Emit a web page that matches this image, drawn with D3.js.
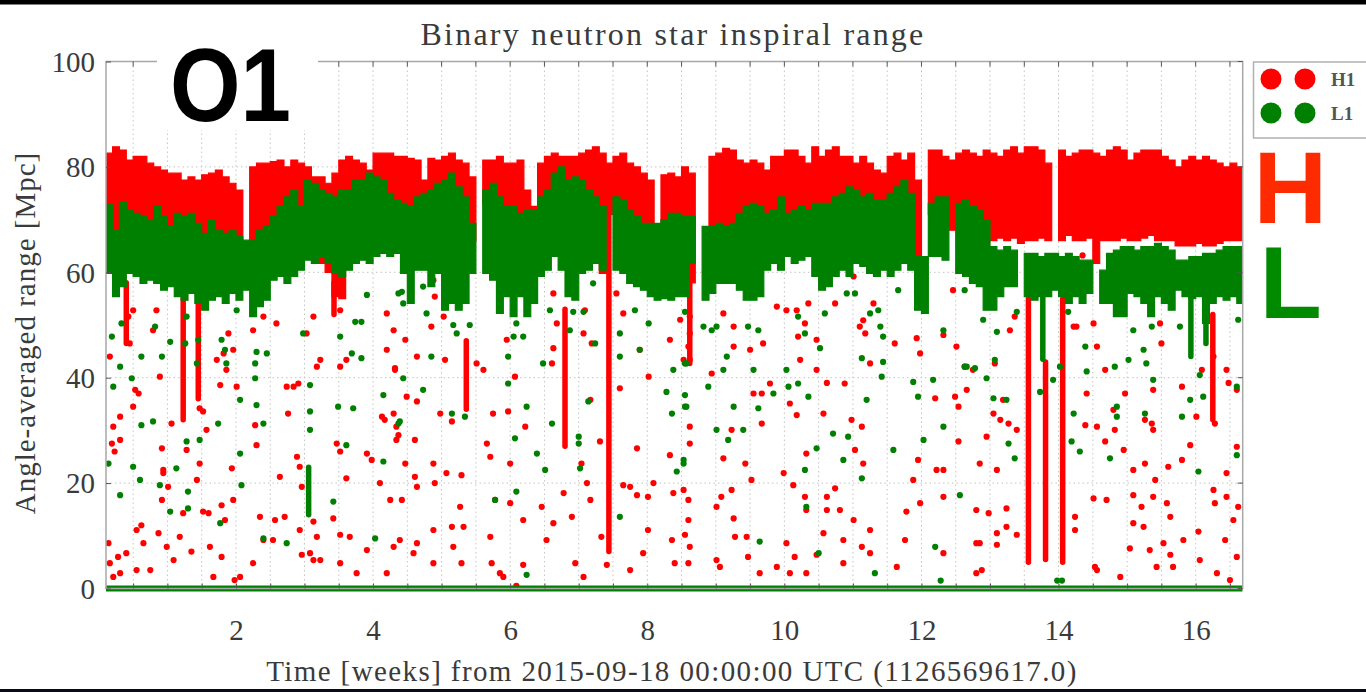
<!DOCTYPE html>
<html>
<head>
<meta charset="utf-8">
<script src="https://cdn.jsdelivr.net/npm/d3@7"></script>
<style>
  html, body { margin: 0; padding: 0; background: #fff; }
  svg { display: block; }
</style>
</head>
<body>
<svg id="chart" width="1366" height="692"></svg>
<script>
// ---- Inspiral range samples (0.1-week bins starting at week 0.1) ----
const binStart = 0.1;
const binWidth = 0.1;

const h1Top = [
  82.6, 83.8, 83.2, 81.3, 82.0, 82.0, 80.7, 80.0, 79.4,
  78.8, 78.8, 77.5, 78.1, 77.5, 78.5, 78.8, 79.4, 78.1, 76.9,
  75.6, null, 80.0, 80.7, 80.7, 81.0, 81.3, 80.0, 81.3, 80.7,
  80.0, 78.1, 78.1, 76.9, 78.8, 81.3, 82.0, 81.3, 80.7, 79.4,
  82.6, 82.6, 82.6, 82.0, 82.0, 81.6, 81.3, 77.5, 81.6, 81.3,
  82.0, 82.6, 81.3, 80.7, 78.1, null, 81.3, 81.3, 82.0, 80.7,
  80.7, 81.3, 75.6, 72.5, 80.7, 82.0, 82.6, 82.0, 82.0, 82.0,
  82.6, 83.2, 83.8, 82.6, 80.7, 82.0, 82.6, 80.7, 80.0, 78.8,
  77.5, null, 78.5, 78.8, 78.1, 80.0, 78.8, null, null, 82.0,
  82.6, 83.5, 83.2, 81.3, 80.7, 81.3, 80.7, 79.4, 82.0, 82.0,
  83.2, 83.2, 82.0, 80.7, 83.8, 82.0, 83.2, 83.8, 82.0, 82.0,
  80.7, 82.0, 80.7, 79.4, 78.8, 82.0, 82.6, 81.3, 82.6, 77.5,
  null, 83.2, 83.2, 82.0, 81.3, 82.6, 83.2, 82.6, 82.0, 83.2,
  82.6, 82.0, 83.2, 83.8, 82.6, 83.8, 83.8, 83.2, 80.7, null,
  83.2, 82.0, 82.6, 83.2, 83.2, 82.6, 82.0, 83.2, 83.8, 83.2,
  81.3, 82.6, 83.2, 83.2, 83.2, 82.0, 81.3, 80.0, 81.3, 82.0,
  81.3, 82.0, 81.3, 80.7, 80.0, 80.7, 80.0
];
const h1Bottom = [
  70, 66, 71, 70, 69, 68, 68, 70, 68,
  67, 69, 68, 69, 67, 65, 68, 66, 65, 66,
  65, null, 64, 66, 67, 68, 70, 72, 73, 71,
  75, 74, 61.7, 60, 55.4, 55, 73, 75, 75, 76,
  76, 75, 73, 72, 71, 70, 72, 73, 73, 74,
  75, 76, 74, 72, 66, null, 73, 74, 72, 70,
  70, 69, 70, 68, 72, 73, 63, 66, 74, 75,
  75, 73, 72, 59.8, 71, 72, 72, 70, 68, 67,
  67, null, 68, 69, 69, 68, 58, null, null, 66,
  67, 66, 67, 69, 70, 71, 70, 69, 70, 72,
  69, 70, 70, 70, 71, 71, 71, 72, 73, 74,
  73, 72, 73, 71, 71, 73, 74, 75, 73, 56,
  null, 71, 72, 72, 68, 71, 71, 70, 70, 68,
  66, 66.5, 66, 66.5, 65.5, 66, 66, 66.5, 66, null,
  66, 67, 66, 66, 66.5, 61.7, 66, 66, 66, 66.5,
  66, 66, 66.5, 67, 66, 66, 66, 65, 65, 65,
  65.5, 65, 65, 65.5, 66, 66, 66
];
const l1Top = [
  72.8, 68.0, 73.4, 71.8, 71.2, 70.6, 69.9, 72.5, 70.6,
  68.7, 71.2, 70.6, 71.2, 69.3, 67.4, 69.9, 68.0, 67.4, 68.0,
  66.8, 66.1, 66.1, 68.0, 68.7, 70.6, 72.5, 74.3, 75.6, 72.5,
  77.5, 76.9, 75.6, 75.0, 74.3, 75.6, 75.6, 77.5, 77.5, 78.8,
  78.1, 77.5, 75.0, 73.7, 73.1, 72.5, 74.3, 75.0, 75.6, 76.9,
  77.5, 78.8, 76.2, 74.3, 69.3, null, 75.6, 76.9, 74.3, 72.5,
  72.5, 71.2, 71.8, 71.8, 74.3, 75.6, 78.8, 80.0, 77.5, 78.1,
  77.5, 75.6, 74.3, 72.5, null, 74.3, 73.7, 71.8, 70.6, 69.3,
  69.3, 69.3, 70.0, 71.2, 71.2, 70.6, 70.6, null, 68.7, 68.7,
  69.3, 68.7, 69.3, 71.2, 72.5, 73.1, 72.5, 71.2, 71.8, 74.3,
  71.2, 71.8, 72.5, 71.8, 73.1, 73.1, 73.1, 74.3, 75.0, 76.2,
  75.6, 74.3, 75.0, 73.7, 73.7, 75.0, 76.2, 77.5, 75.0, 63.0,
  63.0, 73.1, 74.3, 74.3, null, 73.1, 73.7, 72.5, 71.8, 70.0,
  64.9, 64.2, 64.9, 64.2, null, 63.6, 63.6, 63.0, 63.6, 63.6,
  63.0, 63.6, 63.0, 62.3, 62.3, null, 60.4, 63.6, 64.2, 64.9,
  64.9, 64.2, 64.9, 64.9, 65.5, 64.9, 64.2, 62.3, 62.3, 63.0,
  63.0, 63.6, 63.6, 64.2, 64.9, 64.9, 64.9
];
const l1Bottom = [
  59.8, 55.4, 57.3, 59.8, 59.2, 57.9, 58.5, 57.9, 56.6,
  57.3, 55.4, 54.7, 56.0, 54.1, 52.8, 54.7, 55.4, 54.1, 56.0,
  54.7, 56.6, 51.6, 53.5, 54.7, 58.5, 59.2, 57.9, 59.2, 60.4,
  62.3, 61.7, 63.0, 61.7, 59.8, 59.2, 60.4, 61.7, 62.3, 61.7,
  63.0, 63.6, 63.0, 63.6, 59.8, 54.1, 60.4, 60.4, 57.3, 59.8,
  52.8, 54.1, 52.8, 54.1, 59.8, null, 59.8, 58.5, 52.2, 55.4,
  51.6, 55.4, 51.6, 54.1, 59.2, 60.4, 63.0, 60.4, 55.4, 54.7,
  59.8, 60.4, 61.7, 60.4, null, 60.4, 59.8, 57.9, 57.3, 56.6,
  55.4, 54.7, 55.0, 54.7, 55.4, 55.4, 61.7, null, 54.7, 56.0,
  57.9, 57.9, 57.9, 56.6, 54.7, 54.7, 55.4, 60.4, 61.7, 60.4,
  63.0, 61.7, 62.3, 63.0, 59.2, 56.6, 57.3, 59.2, 60.4, 59.2,
  61.7, 61.1, 59.8, 59.2, 60.4, 59.2, 60.4, 61.7, 60.4, 52.8,
  52.2, 63.0, 63.0, 62.3, null, 59.8, 59.2, 57.9, 57.3, 52.8,
  52.8, 55.4, 57.3, 57.3, null, 55.4, 54.7, 55.4, 55.4, 56.6,
  55.4, 54.1, 55.4, 54.1, 56.0, null, 54.1, 54.1, 51.6, 51.6,
  56.0, 55.4, 54.1, 51.6, 55.4, 54.1, 52.8, 56.6, 55.4, 55.0,
  55.4, 50.3, 54.1, 55.4, 54.7, 55.4, 54.1
];

// Short dense drops below the main band: [week, upper Mpc, lower Mpc]
const h1Drops = [
  [0.40, 58, 46.5], [1.23, 55, 32], [1.45, 54, 36], [3.43, 58, 52],
  [5.36, 47, 34], [6.80, 53, 27], [7.44, 71, 7], [8.62, 58, 42.7],
  [13.56, 55, 5], [13.81, 43, 5.5], [14.06, 55, 5], [16.25, 52, 32]
];
const l1Drops = [
  [3.06, 23, 14], [13.77, 56, 43.5], [15.93, 56, 44], [16.15, 55, 46.5]
];

// Isolated samples: [week, Mpc]
const h1Points = [
  [0.21,30.7],[0.19,27.5],[0.31,28.2],[0.23,26.0],[0.14,8.6],[0.16,4.8],[0.21,2.2],[0.28,6.0],[0.40,6.7],[0.31,2.9],
  [0.55,3.5],[0.62,12.0],[0.65,8.6],[0.75,3.5],[0.55,11.1],[0.50,34.5],[0.58,37.0],[0.53,37.7],[0.31,32.6],[0.87,10.5],
  [0.92,26.6],[0.94,22.5],[0.99,7.9],[1.06,31.3],[1.09,5.4],[1.18,9.8],[1.23,14.3],[1.28,26.3],[1.35,7.0],[1.43,20.6],
  [1.47,23.7],[1.52,14.6],[1.60,14.3],[1.62,7.9],[1.67,2.2],[1.57,30.1],[1.52,33.6],[1.47,34.2],[0.89,40.2],[0.94,21.9],
  [1.01,19.3],[0.92,16.8],[1.77,38.6],[1.82,44.6],[1.86,41.5],[1.79,15.8],[1.84,13.0],[1.94,22.8],[1.96,16.8],[2.01,38.3],
  [2.06,2.2],[1.79,6.0],[1.98,1.6],[2.25,4.8],[2.28,31.0],[2.30,27.2],[2.35,13.6],[2.40,9.2],[2.54,9.2],[2.57,13.0],
  [2.64,21.2],[2.71,13.6],[2.76,33.2],[2.84,38.3],[2.91,38.9],[2.89,25.0],[2.93,23.1],[2.96,19.3],[2.93,11.1],[2.96,6.4],
  [3.08,6.7],[3.13,5.4],[3.23,5.4],[3.13,12.7],[3.18,9.8],[3.42,13.3],[3.47,27.5],[3.52,26.0],[3.61,20.9],[3.66,9.8],
  [3.52,10.2],[3.52,4.8],[3.76,2.9],[3.91,7.3],[3.91,25.6],[3.98,24.4],[4.10,20.0],[4.20,2.9],[4.13,32.6],[4.17,32.0],
  [4.34,28.2],[4.32,41.8],[4.20,45.3],[4.30,49.0],[4.20,52.2],[4.25,16.8],[4.30,7.9],[3.18,42.1],[3.23,43.4],[3.03,48.4],
  [3.13,51.6],[3.52,52.8],[3.61,43.4],[3.52,42.1],[2.74,38.3],[1.72,43.4],[1.96,45.3],[1.89,48.4],[2.25,49.0],[2.59,50.3],
  [2.40,51.6],[0.79,49.0],[0.84,52.8],[0.50,52.8],[0.16,44.0],[0.43,51.6],[0.45,46.5],
  [4.32,41.5],[4.30,33.2],[4.34,30.7],[4.37,29.1],[4.47,23.7],[4.42,16.8],[4.39,9.2],[4.61,21.2],[4.64,19.3],[4.61,28.2],
  [4.64,35.5],[4.49,36.4],[4.59,6.7],[4.64,8.6],[4.47,47.2],[4.64,44.0],[4.85,49.7],[4.90,55.4],[4.88,23.7],[4.88,11.1],
  [4.88,4.8],[4.90,20.0],[4.98,33.2],[5.05,43.4],[5.03,51.6],[5.15,31.7],[5.15,11.7],[5.07,21.9],[5.17,7.9],[5.29,21.5],
  [5.27,15.5],[5.29,4.8],[5.32,11.7],[5.51,42.7],[5.61,41.5],[5.71,9.8],[5.66,27.5],[5.71,25.0],[5.75,33.2],[5.78,16.8],
  [5.73,4.8],[5.85,2.9],[5.90,2.2],[5.95,47.2],[5.97,33.6],[6.00,23.7],[6.00,16.2],[6.07,40.2],[6.09,0.5],[6.19,4.5],
  [6.22,30.7],[6.19,13.0],[6.46,15.5],[6.53,9.2],[6.63,12.4],[6.61,42.7],[6.63,45.6],[6.63,56.0],[6.68,50.3],[6.78,18.1],
  [6.90,13.6],[6.95,4.8],[7.04,23.7],[7.12,20.0],[7.17,16.8],[7.07,2.2],[7.17,35.8],[7.07,48.4],[7.09,52.8],[7.19,46.5],
  [7.31,27.9],[7.41,4.5],[7.33,9.8],[7.60,38.0],[7.65,19.6],[7.75,19.3],[7.85,17.7],[8.01,17.4],[7.85,26.6],[8.01,11.1],
  [7.94,6.7],[7.75,3.5],[7.89,45.3],[8.02,40.2],[8.09,20.0],[8.33,25.3],[8.38,18.1],[8.36,9.2],[8.40,4.8],[8.53,18.7],
  [8.55,10.2],[8.33,47.2],[8.48,51.0],[8.53,43.4],[7.55,56.0],[7.65,52.2],[4.88,58.5],
  [8.62,30.7],[8.62,27.5],[8.60,16.8],[8.60,13.0],[8.62,7.9],[8.60,4.8],[8.62,43.4],[8.60,45.9],[8.62,48.4],[8.62,51.6],
  [8.94,40.8],[9.01,5.4],[9.06,4.1],[9.08,17.4],[9.11,24.7],[9.23,30.1],[9.23,18.7],[9.26,13.3],[9.28,9.8],[9.01,15.5],
  [9.26,45.9],[9.26,49.7],[9.11,52.2],[9.43,23.7],[9.45,9.8],[9.47,6.0],[9.52,20.6],[9.55,37.0],[9.67,37.0],[9.50,45.3],
  [9.67,31.3],[9.79,38.9],[9.89,53.5],[9.89,4.1],[9.99,21.9],[10.03,8.6],[10.08,2.9],[10.15,6.0],[10.13,19.6],[10.18,32.9],
  [10.08,35.1],[10.23,43.4],[10.30,50.3],[10.20,47.8],[10.30,17.4],[10.32,14.9],[10.32,2.9],[10.32,25.6],[10.47,47.2],[10.47,41.5],
  [10.57,33.2],[10.62,17.4],[10.62,14.9],[10.57,10.5],[10.47,6.4],[10.62,39.0],[10.74,19.0],[10.81,14.9],[10.86,9.2],[10.86,4.8],
  [10.88,38.9],[10.98,32.0],[11.03,26.3],[11.01,13.0],[11.13,30.7],[11.15,23.7],[11.13,7.9],[11.25,6.7],[11.25,11.1],[11.15,50.9],
  [11.18,48.4],[11.25,42.7],[11.30,54.1],[11.61,46.5],[11.64,4.1],[11.76,9.2],[11.78,14.6],[11.98,16.2],[11.88,20.6],[11.98,44.6],
  [11.93,47.5],[11.95,24.4],[12.22,22.5],[12.32,22.5],[12.32,6.7],[12.32,17.4],[12.20,36.1],[12.32,48.1],[12.49,36.4],[12.54,27.9],
  [12.54,34.5],[12.46,56.6],[12.51,45.9],[12.63,42.1],[12.75,41.5],[12.80,14.9],[12.80,8.6],[12.80,2.9],[9.69,46.5],[9.64,2.9],
  [10.03,52.8],[10.18,52.8],[10.35,54.1],[10.74,54.1],[11.01,59.2],[11.10,49.7],
  [12.85,23.7],[12.85,8.6],[12.88,3.5],[12.98,14.3],[13.05,33.2],[13.07,42.7],[13.10,10.5],[13.10,8.3],[13.15,32.0],[13.24,11.7],
  [13.24,15.2],[13.27,31.3],[13.29,49.0],[13.39,10.2],[13.39,30.1],[13.36,51.6],[13.10,22.5],[12.95,28.8],[13.19,35.8],[14.24,13.6],
  [14.24,11.1],[14.26,49.7],[14.39,31.0],[14.41,37.0],[14.51,17.1],[14.53,4.1],[14.56,3.5],[14.56,45.9],[14.51,50.3],[14.68,41.5],
  [14.68,27.9],[14.70,16.8],[14.80,33.9],[14.82,30.1],[14.90,2.2],[14.95,26.3],[14.97,37.0],[15.09,22.5],[15.09,17.7],[15.09,12.4],
  [15.04,7.6],[15.21,15.5],[15.24,11.7],[15.26,23.7],[15.26,32.0],[15.36,31.3],[15.38,30.1],[15.38,37.7],[15.41,20.6],[15.38,17.4],
  [15.33,7.3],[15.43,4.1],[15.48,50.3],[15.50,46.5],[15.53,8.6],[15.58,16.2],[15.60,23.1],[15.63,13.6],[15.63,6.4],[15.67,4.1],
  [15.80,38.3],[15.80,24.4],[15.82,9.2],[15.92,27.2],[16.04,10.8],[16.06,5.4],[16.09,41.5],[16.26,18.7],[16.28,16.2],[16.31,2.9],
  [16.43,9.2],[16.45,17.4],[16.45,21.9],[16.50,1.6],[16.55,13.0],[16.60,6.0],[16.62,15.5],[16.45,41.5],[16.48,39.0],[16.60,37.7],
  [16.60,26.9],[16.28,31.3],[16.26,44.0],[16.01,32.6],[14.56,30.7],[14.22,49.7],[12.66,37.7],
  [13.02,63.5],[13.30,62.8],[13.62,63.0],[14.15,62.5],[14.35,63.2],[14.75,62.0],[15.05,63.0],[15.45,62.8],[15.72,61.0],[16.05,62.0],
  [16.35,62.5],[13.20,58.5],[14.45,59.5],[15.15,58.0],[16.50,57.5]
];

const l1Points = [
  [0.19,47.8],[0.21,38.3],[0.33,50.3],[0.31,42.1],[0.48,39.9],[0.62,44.0],[0.62,31.0],[0.79,31.7],[0.82,49.7],[0.92,44.0],
  [1.04,46.8],[0.14,23.7],[0.50,23.1],[0.60,20.6],[0.31,17.7],[0.89,19.6],[1.04,14.6],[1.13,22.8],[1.30,18.4],[1.28,27.9],
  [1.47,28.2],[1.30,15.2],[1.26,46.5],[1.45,47.2],[1.43,42.7],[1.28,51.6],[1.74,31.3],[1.77,12.4],[1.84,45.3],[1.86,42.7],
  [1.79,47.2],[2.06,35.8],[2.06,25.6],[2.08,19.6],[2.01,52.8],[2.30,44.9],[2.28,42.7],[2.28,39.9],[2.30,34.8],[2.40,31.3],
  [2.45,44.6],[2.40,9.5],[2.74,8.6],[2.98,48.4],[3.08,38.6],[3.08,33.6],[3.08,30.1],[3.42,16.5],[3.49,34.5],[3.71,34.2],
  [3.52,47.8],[3.69,44.6],[3.83,43.7],[3.74,50.6],[3.83,50.6],[3.91,55.7],[4.03,9.5],[4.15,36.7],[4.15,24.1],[4.37,31.3],
  [4.37,56.0],[3.61,27.2],
  [4.42,56.3],[4.44,54.1],[4.44,39.9],[4.39,31.7],[4.73,57.3],[4.85,44.0],[4.78,52.2],[5.17,50.0],[5.22,48.4],[5.15,33.2],
  [5.34,32.6],[5.41,50.0],[5.97,44.0],[5.97,38.9],[6.05,47.8],[6.09,50.3],[6.19,47.8],[6.24,34.5],[6.07,28.5],[6.39,25.6],
  [6.51,22.5],[6.58,52.8],[6.48,42.7],[6.61,31.3],[6.92,52.5],[6.87,49.0],[7.00,28.8],[7.00,27.5],[7.02,22.8],[7.07,52.5],
  [7.24,46.5],[7.14,35.5],[7.21,57.9],[7.60,48.4],[7.60,44.0],[7.60,13.6],[7.82,52.8],[7.89,45.3],[8.02,50.3],[8.28,37.3],
  [8.36,33.2],[8.38,41.5],[8.43,22.2],[8.53,24.4],[8.55,34.5],[8.57,42.7],[6.24,2.6],[6.09,18.4],[5.78,16.8],[4.73,37.7],
  [8.55,52.5],[8.55,42.7],[8.55,36.7],[8.57,34.5],[8.53,23.7],[8.82,49.7],[8.94,49.0],[9.01,49.7],[8.89,38.3],[9.11,41.5],
  [9.16,44.0],[9.01,30.1],[9.18,28.2],[9.26,34.5],[9.40,30.1],[9.47,49.7],[9.62,49.0],[9.55,41.5],[9.62,34.2],[9.64,8.9],
  [9.84,37.0],[10.03,41.5],[10.06,38.3],[10.20,38.9],[10.20,51.6],[10.30,48.4],[10.35,36.4],[10.30,22.5],[10.32,15.5],[10.47,26.6],
  [10.52,45.6],[10.50,6.7],[10.59,52.2],[10.71,29.4],[10.86,24.4],[10.93,28.8],[10.91,56.0],[11.03,56.0],[11.13,43.7],[11.13,20.9],
  [11.20,35.8],[11.25,52.2],[11.37,52.8],[11.40,49.7],[11.44,47.8],[11.42,40.2],[11.44,43.0],[11.32,2.9],[11.59,26.3],[11.66,56.6],
  [11.88,39.2],[11.95,36.4],[12.03,28.2],[12.17,39.6],[12.20,7.9],[12.32,30.7],[12.32,49.0],[12.63,42.1],[12.63,56.6],
  [12.78,41.8],[12.95,39.9],[13.05,36.1],[13.07,43.4],[13.10,48.7],[12.90,51.0],[13.24,35.8],[13.27,27.5],[13.36,24.7],[13.39,52.5],
  [13.73,37.3],[13.92,39.6],[14.02,42.1],[14.14,52.5],[14.22,33.2],[14.19,27.9],[14.31,26.0],[14.39,45.9],[14.41,41.2],[14.75,24.7],
  [14.82,42.1],[14.85,34.5],[14.85,32.6],[15.02,43.4],[15.09,49.0],[15.24,45.3],[15.26,33.2],[15.28,42.7],[15.36,49.7],[15.38,39.6],
  [15.80,32.6],[15.92,35.8],[16.04,22.2],[16.06,40.5],[16.11,36.4],[16.60,25.3],[16.60,38.3],[16.62,51.0],[15.77,49.7],[12.56,17.7],
  [12.66,42.1],[12.28,1.5],[13.98,1.5],[14.05,1.5]
];

// L1 samples sitting at zero range across the run: [first week, last week]
const l1ZeroSpan = [0.104, 16.686];

const xTickValues = [2, 4, 6, 8, 10, 12, 14, 16];
const yTickValues = [0, 20, 40, 60, 80, 100];
const legendItems = ["H1", "L1"];

// ---- Layout ----
const svg = d3.select("#chart");
const W = 1366, H = 692;
const plot = { left: 106, right: 1242.7, top: 61.5, bottom: 588.5 };
const RED = "#ff0000", GREEN = "#008000";
const SERIF = "'Liberation Serif', 'Times New Roman', serif";
const SANS = "'Liberation Sans', Arial, Helvetica, sans-serif";
const TEXT = "#3a3a3a";

const x = d3.scaleLinear().domain([0.104, 16.686]).range([plot.left, plot.right]);
const y = d3.scaleLinear().domain([0, 100]).range([plot.bottom, plot.top]);

svg.append("rect").attr("width", W).attr("height", H).attr("fill", "#fff");

// grid (dotted, every half week and every 20 Mpc)
const grid = svg.append("g").attr("stroke", "#c4c4c4").attr("stroke-width", 1).attr("stroke-dasharray", "1.5,3");
const minorWeeks = d3.range(1, 34).map(i => i / 2);
grid.selectAll("line.v").data(minorWeeks).join("line")
  .attr("x1", d => x(d)).attr("x2", d => x(d))
  .attr("y1", plot.top).attr("y2", plot.bottom);
grid.selectAll("line.h").data([20, 40, 60, 80]).join("line")
  .attr("x1", plot.left).attr("x2", plot.right)
  .attr("y1", d => y(d)).attr("y2", d => y(d));

// clip to the axes horizontally
svg.append("defs").append("clipPath").attr("id", "plotClip")
  .append("rect").attr("x", plot.left).attr("y", 0)
  .attr("width", plot.right - plot.left).attr("height", plot.bottom + 4);

const data = svg.append("g").attr("clip-path", "url(#plotClip)");

// each bin becomes a flat step; missing bins break the band
function stepPoints(top, bottom) {
  const pts = [];
  top.forEach((t, i) => {
    const w = binStart + i * binWidth, b = bottom[i];
    if (t == null || b == null) { pts.push({ gap: true }); return; }
    pts.push({ w, t, b }, { w: w + binWidth, t, b });
  });
  return pts;
}
const band = d3.area()
  .defined(d => !d.gap)
  .x(d => x(d.w)).y0(d => y(d.b)).y1(d => y(d.t));

function drawSeries(color, top, bottom, drops, points) {
  const g = data.append("g").attr("fill", color);
  g.append("path").attr("d", band(stepPoints(top, bottom)))
    .attr("stroke", color).attr("stroke-width", 1.2).attr("stroke-linejoin", "miter");
  g.selectAll("line").data(drops).join("line")
    .attr("x1", d => x(d[0])).attr("x2", d => x(d[0]))
    .attr("y1", d => y(d[1])).attr("y2", d => y(d[2]))
    .attr("stroke", color).attr("stroke-width", 5.5).attr("stroke-linecap", "round");
  g.selectAll("circle").data(points).join("circle")
    .attr("cx", d => x(d[0])).attr("cy", d => y(d[1])).attr("r", 3.1);
}

drawSeries(RED, h1Top, h1Bottom, h1Drops, h1Points);
drawSeries(GREEN, l1Top, l1Bottom, l1Drops, l1Points);

data.append("line")
  .attr("x1", x(l1ZeroSpan[0])).attr("x2", x(l1ZeroSpan[1]))
  .attr("y1", y(0)).attr("y2", y(0))
  .attr("stroke", GREEN).attr("stroke-width", 6);

// frame
svg.append("rect")
  .attr("x", plot.left).attr("y", plot.top)
  .attr("width", plot.right - plot.left).attr("height", plot.bottom - plot.top)
  .attr("fill", "none").attr("stroke", "#a8a8a8").attr("stroke-width", 1.5);

// axes
const xAxis = d3.axisBottom(x).tickValues(minorWeeks)
  .tickSizeInner(-5).tickSizeOuter(0).tickPadding(31)
  .tickFormat(d => xTickValues.includes(d) ? d : "");
const gx = svg.append("g").attr("transform", `translate(0,${plot.bottom})`).call(xAxis);
const yAxis = d3.axisLeft(y).tickValues(yTickValues)
  .tickSizeInner(-5).tickSizeOuter(0).tickPadding(11);
const gy = svg.append("g").attr("transform", `translate(${plot.left},0)`).call(yAxis);
[gx, gy].forEach(g => {
  g.select(".domain").remove();
  g.selectAll(".tick line").attr("stroke", "#555").attr("stroke-width", 1);
  g.selectAll(".tick text").attr("font-family", SERIF).attr("font-size", 29)
    .attr("fill", TEXT);
});
gy.selectAll(".tick text").attr("dy", "0.34em");

// mirrored ticks on top and right edges
svg.append("g").selectAll("line").data(minorWeeks).join("line")
  .attr("x1", d => x(d)).attr("x2", d => x(d))
  .attr("y1", plot.top).attr("y2", plot.top + 5)
  .attr("stroke", "#555");
svg.append("g").selectAll("line").data(yTickValues).join("line")
  .attr("x1", plot.right - 5).attr("x2", plot.right)
  .attr("y1", d => y(d)).attr("y2", d => y(d))
  .attr("stroke", "#555");

// titles
svg.append("text").attr("x", 673).attr("y", 45).attr("text-anchor", "middle")
  .attr("font-family", SERIF).attr("font-size", 32).attr("letter-spacing", 2.2)
  .attr("fill", TEXT).text("Binary neutron star inspiral range");
svg.append("text").attr("x", 672).attr("y", 681).attr("text-anchor", "middle")
  .attr("font-family", SERIF).attr("font-size", 29).attr("letter-spacing", 1.4)
  .attr("fill", TEXT).text("Time [weeks] from 2015-09-18 00:00:00 UTC (1126569617.0)");
svg.append("text").attr("transform", "translate(35,333) rotate(-90)")
  .attr("text-anchor", "middle")
  .attr("font-family", SERIF).attr("font-size", 29).attr("letter-spacing", 1.0)
  .attr("fill", TEXT).text("Angle-averaged range [Mpc]");

// legend
const lg = svg.append("g");
lg.append("rect").attr("x", 1253.5).attr("y", 62).attr("width", 140).attr("height", 76)
  .attr("fill", "#fff").attr("stroke", "#b0b0b0").attr("stroke-width", 1.5);
legendItems.forEach((name, i) => {
  const cy = 79 + i * 34;
  const c = i === 0 ? RED : GREEN;
  lg.append("circle").attr("cx", 1271).attr("cy", cy).attr("r", 10.5).attr("fill", c);
  lg.append("circle").attr("cx", 1305).attr("cy", cy).attr("r", 10.5).attr("fill", c);
  lg.append("text").attr("x", 1331).attr("y", cy + 6.5)
    .attr("font-family", SERIF).attr("font-size", 19).attr("font-weight", "bold")
    .attr("fill", "#555").text(name);
});

// run label
svg.append("rect").attr("x", 157).attr("y", 50).attr("width", 161).attr("height", 80).attr("fill", "#fff");
svg.append("text").attr("transform", "translate(170,121) scale(0.88,1)")
  .attr("font-family", SANS).attr("font-weight", "bold").attr("font-size", 103)
  .attr("fill", "#000").text("O1");

// detector initials, stacked in one text block
const det = svg.append("text")
  .attr("font-family", SANS).attr("font-weight", "bold").attr("font-size", 102);
det.append("tspan").attr("x", 1253.5).attr("y", 223).attr("fill", "#ff2b00").text("H");
det.append("tspan").attr("x", 1259.6).attr("y", 318).attr("fill", "#008a00").text("L");

// black edges
svg.append("rect").attr("x", 0).attr("y", 0).attr("width", W).attr("height", 4.5).attr("fill", "#000");
svg.append("rect").attr("x", 0).attr("y", 689).attr("width", W).attr("height", 3).attr("fill", "#0a0a1a");
</script>
</body>
</html>
